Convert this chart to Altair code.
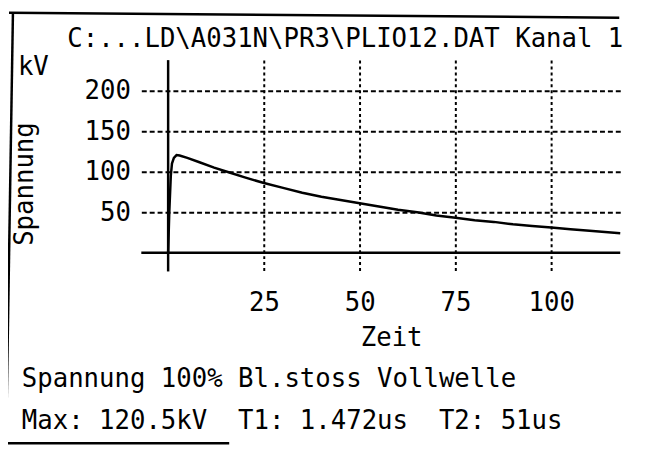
import altair as alt
import pandas as pd

# ---- data ----
zeit = [0, 0.3, 0.7, 1.0, 1.5, 2.2, 3.0, 5, 8, 12, 16, 20, 25, 30, 35, 40, 45, 50,
        55, 60, 65, 70, 75, 80, 85, 90, 95, 100, 105, 110, 118]
spannung = [0, 50, 95, 110, 117, 120.5, 120, 117, 112, 105, 99, 93, 86, 80, 74, 69, 65, 61,
            57, 53, 50, 46, 43, 40, 38, 35, 33, 31, 29, 27, 24]

x_ticks = [25, 50, 75, 100]
y_ticks = [50, 100, 150, 200]
x_domain = [-7, 118]
y_domain = [-23.2, 237.8]

NB = "\u00a0"
header = "C:...LD\\A031N\\PR3\\PLIO12.DAT Kanal 1"
unit = "kV"
line1 = "Spannung 100% Bl.stoss Vollwelle"
line2 = "Max: 120.5kV" + NB * 2 + "T1: 1.472us" + NB * 2 + "T2: 51us"

FONT = "DejaVu Sans Mono"
FS = 26

curve = pd.DataFrame({"t": zeit, "v": spannung})

xs = alt.Scale(domain=x_domain, nice=False, zero=False)
ys = alt.Scale(domain=y_domain, nice=False, zero=False)

line = alt.Chart(curve).mark_line(color="black", strokeWidth=2.5).encode(
    x=alt.X("t:Q", scale=xs, axis=alt.Axis(
        values=x_ticks, grid=True, gridDash=[3, 3], gridColor="black", gridWidth=2,
        ticks=False, domain=False, labelFont=FONT, labelFontSize=FS, labelColor="black",
        labelPadding=19, title="Zeit", titleFont=FONT, titleFontSize=FS,
        titleFontWeight="normal", titleColor="black", titleX=253, titleY=75,
        titleBaseline="alphabetic")),
    y=alt.Y("v:Q", scale=ys, axis=alt.Axis(
        values=y_ticks, grid=True, gridDash=[5, 3], gridColor="black", gridWidth=2,
        ticks=False, domain=False, labelFont=FONT, labelFontSize=FS, labelColor="black",
        labelPadding=11, title="Spannung", titleFont=FONT, titleFontSize=FS,
        titleFontWeight="normal", titleColor="black", titleAngle=270, titleX=-110,
        titleY=125, titleBaseline="alphabetic", titleAlign="center")),
)

vaxis = alt.Chart(pd.DataFrame({"t": [0]})).mark_rule(color="black", strokeWidth=2.5).encode(
    x=alt.X("t:Q", scale=xs))
haxis = alt.Chart(pd.DataFrame({"v": [0]})).mark_rule(color="black", strokeWidth=2.5).encode(
    y=alt.Y("v:Q", scale=ys))


def txt(s, x, y):
    return alt.Chart(pd.DataFrame({"s": [s]})).mark_text(
        font=FONT, fontSize=FS, color="black", align="left", baseline="alphabetic"
    ).encode(text="s:N", x=alt.value(x), y=alt.value(y))


t_head = txt(header, -75, -13)
t_unit = txt(unit, -125, 15)
t_l1 = txt(line1, -121, 331)
t_l2 = txt(line2, -121, 374)

f_left = alt.Chart(pd.DataFrame({"k": ["l"]})).mark_rule(color="black", strokeWidth=2.5).encode(
    x=alt.value(-130), y=alt.value(-48), x2=alt.value(-137), y2=alt.value(390))
f_top = alt.Chart(pd.DataFrame({"k": ["t"]})).mark_rule(color="black", strokeWidth=2.5).encode(
    x=alt.value(-134), y=alt.value(-48), x2=alt.value(484), y2=alt.value(-43))
f_bot = alt.Chart(pd.DataFrame({"k": ["b"]})).mark_rule(color="black", strokeWidth=2.5).encode(
    x=alt.value(-143), y=alt.value(388), x2=alt.value(89), y2=alt.value(388))

chart = alt.layer(line, vaxis, haxis, t_head, t_unit, t_l1, t_l2, f_left, f_top, f_bot).properties(
    width=485, height=214,
    autosize=alt.AutoSizeParams(type="none"),
    padding={"left": 135, "top": 50, "right": 20, "bottom": 176},
    background="white",
).configure_view(stroke=None)

chart.save("out.html", embed_options={"renderer": "svg", "actions": False})
